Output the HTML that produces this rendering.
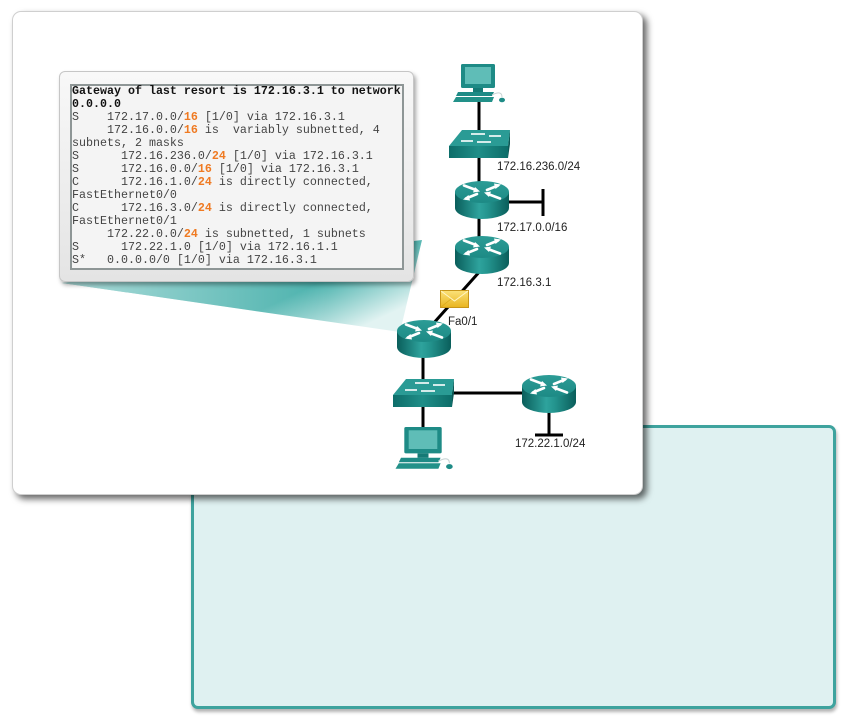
<!DOCTYPE html>
<html><head><meta charset="utf-8"><style>
html,body{margin:0;padding:0;background:#fff;width:849px;height:722px;overflow:hidden;position:relative;font-family:"Liberation Sans",sans-serif}
.teal{position:absolute;left:191px;top:425px;width:645px;height:284px;box-sizing:border-box;border:3px solid #3ea39e;border-radius:7px;background:#dff1f1;box-shadow:1px 3px 3px rgba(0,0,0,0.3)}
.panel{position:absolute;left:12px;top:11px;width:631px;height:484px;box-sizing:border-box;background:#fff;border:1px solid #cfcfcf;border-radius:9px;box-shadow:4px 4px 7px rgba(0,0,0,0.6)}
svg{position:absolute;left:0;top:0}
.co{position:absolute;left:59px;top:71px;width:355px;height:211px;box-sizing:border-box;background:linear-gradient(#f8f8f8,#e4e4e4);border:1px solid #c6c6c6;border-radius:6px;box-shadow:2px 3px 4px rgba(0,0,0,0.35)}
.inner{position:absolute;left:70px;top:84px;width:334px;height:186px;box-sizing:border-box;border:2px solid #8e9696;background:#f4f4f4}
pre{position:absolute;left:72px;top:85px;margin:0;font-family:"Liberation Mono",monospace;font-size:11.667px;line-height:13px;color:#444;white-space:pre}
pre b{color:#111}
pre .o{color:#ef7a22;font-weight:bold}
</style></head><body>
<div class="teal"></div>
<div class="panel"></div>
<svg width="849" height="722" viewBox="0 0 849 722">
<defs>
<linearGradient id="wg" gradientUnits="userSpaceOnUse" x1="320" y1="282" x2="345" y2="335">
<stop offset="0" stop-color="#49b1ac"/><stop offset="1" stop-color="#e2f3f2"/>
</linearGradient>
<linearGradient id="wh" gradientUnits="userSpaceOnUse" x1="62" y1="0" x2="330" y2="0">
<stop offset="0" stop-color="#fff" stop-opacity="0.55"/><stop offset="1" stop-color="#fff" stop-opacity="0"/>
</linearGradient>
</defs>
<polygon points="62,283 422,240 400,332" fill="url(#wg)"/>
<polygon points="62,283 422,240 400,332" fill="url(#wh)"/>
</svg>
<div class="co"></div>
<div class="inner"></div>
<pre><b>Gateway of last resort is 172.16.3.1 to network
0.0.0.0</b>
S    172.17.0.0/<span class="o">16</span> [1/0] via 172.16.3.1
     172.16.0.0/<span class="o">16</span> is  variably subnetted, 4
subnets, 2 masks
S      172.16.236.0/<span class="o">24</span> [1/0] via 172.16.3.1
S      172.16.0.0/<span class="o">16</span> [1/0] via 172.16.3.1
C      172.16.1.0/<span class="o">24</span> is directly connected,
FastEthernet0/0
C      172.16.3.0/<span class="o">24</span> is directly connected,
FastEthernet0/1
     172.22.0.0/<span class="o">24</span> is subnetted, 1 subnets
S      172.22.1.0 [1/0] via 172.16.1.1
S*   0.0.0.0/0 [1/0] via 172.16.3.1</pre>
<svg width="849" height="722" viewBox="0 0 849 722">
<defs>
<linearGradient id="rb" x1="0" y1="0" x2="1" y2="0">
<stop offset="0" stop-color="#0a5e5b"/><stop offset="0.45" stop-color="#2ea39d"/><stop offset="0.6" stop-color="#24958f"/><stop offset="1" stop-color="#0a5e5b"/>
</linearGradient>
<linearGradient id="rt" x1="0" y1="0" x2="0" y2="1">
<stop offset="0" stop-color="#2c9c96"/><stop offset="1" stop-color="#1d8a85"/>
</linearGradient>
<linearGradient id="sf" x1="0" y1="0" x2="1" y2="0">
<stop offset="0" stop-color="#0d6d69"/><stop offset="0.5" stop-color="#1f8e88"/><stop offset="1" stop-color="#0d6d69"/>
</linearGradient>
<linearGradient id="env" x1="0" y1="0" x2="0" y2="1">
<stop offset="0" stop-color="#fbe27a"/><stop offset="1" stop-color="#e9b41f"/>
</linearGradient>
<g id="router">
<path d="M0,11 V27 A27,11 0 0 0 54,27 V11 Z" fill="url(#rb)"/>
<ellipse cx="27" cy="11" rx="27" ry="11" fill="url(#rt)"/>
<g stroke="#fff" stroke-width="2.6" stroke-linecap="round" fill="#fff">
<line x1="9" y1="4.5" x2="21" y2="9"/>
<line x1="45" y1="17.5" x2="33" y2="13"/>
<line x1="32" y1="9" x2="43" y2="4.5"/>
<line x1="22" y1="13" x2="11" y2="17.5"/>
</g>
<g fill="#fff">
<polygon points="25,10.5 18,11.5 20,6"/>
<polygon points="29,11.5 36,10.5 34,16"/>
<polygon points="46,3.5 39,2.5 40.5,8"/>
<polygon points="8,18.5 15,19.5 13.5,14"/>
</g>
</g>
<g id="switch">
<polygon points="13,0 61,0 59,16 0,16" fill="#2a9b95"/>
<rect x="0" y="16" width="59" height="12" fill="url(#sf)"/>
<polygon points="59,16 61,0 61,14 59,28" fill="#0b5956"/>
<g stroke="#fff" stroke-width="1.6" fill="none">
<line x1="22" y1="4" x2="36" y2="4"/>
<line x1="40" y1="6" x2="52" y2="6"/>
<line x1="12" y1="11" x2="24" y2="11"/>
<line x1="28" y1="12" x2="42" y2="12"/>
</g>
</g>
<g id="pc">
<rect x="-17" y="0" width="34" height="24" rx="1.5" fill="#1e8b86"/>
<rect x="-13" y="3" width="26" height="17" fill="#5fbdb7"/>
<rect x="-5" y="24" width="10" height="4" fill="#157a76"/>
<polygon points="-20,28 16,28 14,32 -22,32" fill="#1e8b86"/>
<polygon points="-22,33 16,33 14,38 -25,38" fill="#229189"/>
<path d="M14,31 Q24,26 24,33" stroke="#c8d4d4" stroke-width="1" fill="none"/>
<ellipse cx="24" cy="36" rx="3" ry="2.3" fill="#1e8b86"/>
</g>
</defs>
<g stroke="#000" stroke-width="3" fill="none">
<line x1="479" y1="100" x2="479" y2="240"/>
<line x1="505" y1="202" x2="543" y2="202"/>
<line x1="543" y1="189" x2="543" y2="216"/>
<line x1="481" y1="270" x2="432" y2="325"/>
<line x1="423" y1="350" x2="423" y2="430"/>
<line x1="450" y1="393" x2="525" y2="393"/>
<line x1="549" y1="405" x2="549" y2="435"/>
<line x1="535" y1="435" x2="563" y2="435"/>
</g>
<use href="#pc" x="478" y="64"/>
<g transform="translate(423,427) scale(1.1)"><use href="#pc"/></g>
<use href="#switch" x="449" y="130"/>
<use href="#switch" x="393" y="379"/>
<use href="#router" x="455" y="181"/>
<use href="#router" x="455" y="236"/>
<use href="#router" x="397" y="320"/>
<use href="#router" x="522" y="375"/>
<rect x="440.5" y="290.5" width="28" height="17" fill="url(#env)" stroke="#c8961a" stroke-width="1"/>
<polyline points="441,291 454.5,301 468,291" fill="none" stroke="#fff6c8" stroke-width="1"/>
<polyline points="441,307 451,299 M458,299 468,307" fill="none" stroke="#d9a81c" stroke-width="0.8"/>
<g font-family="Liberation Sans, sans-serif" font-size="11.5" fill="#222">
<text x="497" y="170">172.16.236.0/24</text>
<text x="497" y="231">172.17.0.0/16</text>
<text x="497" y="286">172.16.3.1</text>
<text x="448" y="325">Fa0/1</text>
<text x="515" y="447">172.22.1.0/24</text>
</g>
</svg>
</body></html>
